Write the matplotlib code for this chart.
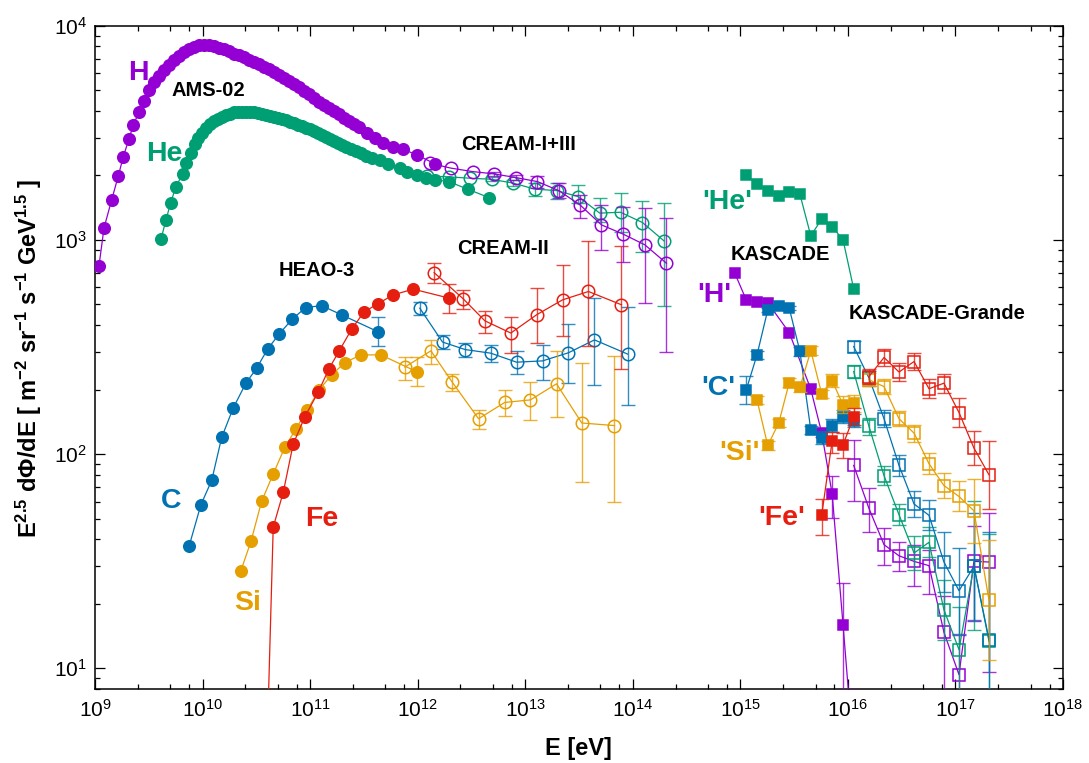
import numpy as np
import matplotlib
matplotlib.use("Agg")
import matplotlib.pyplot as plt
from matplotlib.ticker import LogLocator, NullFormatter, FixedLocator

plt.rcParams['font.family'] = ['Liberation Sans', 'DejaVu Sans']
plt.rcParams['mathtext.fontset'] = 'custom'
plt.rcParams['mathtext.rm'] = 'Liberation Sans'
plt.rcParams['mathtext.bf'] = 'Liberation Sans:bold'
plt.rcParams['mathtext.it'] = 'Liberation Sans:italic'
plt.rcParams['mathtext.default'] = 'regular'

C_H, C_HE, C_C, C_SI, C_FE = '#9400D3', '#009E73', '#0072B2', '#E69F00', '#E51E10'

# ---------------- data: log10(E / eV), log10(E^2.5 dPhi/dE) ----------------
# AMS-02
ams_h_logE = [9.037, 9.084, 9.155, 9.217, 9.263, 9.316, 9.356, 9.412, 9.455, 9.502, 9.548,
              9.595, 9.641, 9.688, 9.734, 9.781, 9.827, 9.874, 9.920, 9.967, 10.013,
              10.060, 10.106, 10.152, 10.199, 10.245, 10.292, 10.338, 10.385, 10.431, 10.478,
              10.524, 10.571, 10.617, 10.664, 10.710, 10.757, 10.803, 10.849, 10.896, 10.942,
              10.989, 11.035, 11.082, 11.128, 11.175, 11.221, 11.268, 11.314, 11.361, 11.407,
              11.454, 11.528, 11.602, 11.677, 11.770, 11.863, 11.993, 12.160]
ams_h_logF = [2.879, 3.056, 3.187, 3.299, 3.389, 3.471, 3.537, 3.599, 3.649, 3.700, 3.739,
              3.765, 3.793, 3.817, 3.840, 3.859, 3.877, 3.891, 3.901, 3.908, 3.910,
              3.910, 3.905, 3.898, 3.889, 3.880, 3.870, 3.861, 3.852, 3.842, 3.831,
              3.819, 3.807, 3.796, 3.782, 3.768, 3.754, 3.740, 3.726, 3.712, 3.695,
              3.679, 3.663, 3.646, 3.630, 3.616, 3.602, 3.586, 3.569, 3.555, 3.541,
              3.525, 3.499, 3.476, 3.454, 3.435, 3.423, 3.397, 3.355]
ams_he_logE = [9.613, 9.660, 9.704, 9.753, 9.815, 9.846, 9.892, 9.932, 9.960,
               9.994, 10.032, 10.069, 10.106, 10.143, 10.180, 10.217, 10.255, 10.292, 10.329,
               10.366, 10.403, 10.441, 10.478, 10.515, 10.552, 10.589, 10.626, 10.664, 10.701,
               10.738, 10.775, 10.812, 10.849, 10.887, 10.924, 10.961, 10.998, 11.035, 11.073,
               11.110, 11.147, 11.184, 11.221, 11.258, 11.296, 11.333,
               11.379, 11.426, 11.472, 11.519, 11.574, 11.649, 11.723, 11.835, 11.900, 11.993,
               12.076, 12.160, 12.290, 12.464, 12.665]
ams_he_logF = [3.003, 3.093, 3.174, 3.249, 3.308, 3.361, 3.405, 3.447, 3.475,
               3.499, 3.523, 3.539, 3.553, 3.565, 3.574, 3.583, 3.590, 3.595, 3.597,
               3.599, 3.599, 3.597, 3.595, 3.591, 3.588, 3.583, 3.579, 3.574, 3.569,
               3.565, 3.558, 3.551, 3.544, 3.537, 3.530, 3.523, 3.516, 3.509, 3.499,
               3.490, 3.481, 3.471, 3.462, 3.453, 3.443, 3.434,
               3.425, 3.415, 3.404, 3.392, 3.382, 3.371, 3.355, 3.335, 3.319, 3.303,
               3.289, 3.280, 3.272, 3.237, 3.197]

# CREAM-I+III
cream_h_logE = [12.113, 12.309, 12.510, 12.711, 12.913, 13.114, 13.312, 13.510, 13.709, 13.910, 14.112, 14.313]
cream_h_logF = [3.358, 3.335, 3.319, 3.308, 3.291, 3.272, 3.230, 3.163, 3.070, 3.027, 2.977, 2.891]
cream_h_lo = [3.358, 3.335, 3.319, 3.298, 3.279, 3.243, 3.196, 3.103, 2.953, 2.897, 2.706, 2.477]
cream_h_hi = [3.358, 3.335, 3.319, 3.318, 3.303, 3.299, 3.266, 3.210, 3.163, 3.154, 3.149, 3.103]
cream_he_logE = [12.086, 12.290, 12.485, 12.687, 12.888, 13.089, 13.297, 13.492, 13.693, 13.886, 14.090, 14.291]
cream_he_logF = [3.299, 3.294, 3.288, 3.283, 3.265, 3.237, 3.230, 3.202, 3.125, 3.129, 3.081, 2.995]
cream_he_lo = [3.299, 3.294, 3.288, 3.273, 3.251, 3.205, 3.191, 3.173, 3.084, 3.037, 2.944, 2.692]
cream_he_hi = [3.299, 3.294, 3.288, 3.293, 3.279, 3.266, 3.266, 3.257, 3.196, 3.219, 3.182, 3.173]

# HEAO-3
heao_c_logE = [9.876, 9.985, 10.085, 10.178, 10.285, 10.403, 10.503, 10.605, 10.713, 10.834, 10.958, 11.107, 11.293, 11.627]
heao_c_logF = [1.572, 1.764, 1.877, 2.078, 2.215, 2.331, 2.401, 2.490, 2.561, 2.630, 2.684, 2.693, 2.650, 2.572]
heao_c_err = [0, 0, 0, 0, 0, 0, 0, 0, 0, 0, 0, 0, 0, 0.068]
heao_si_logE = [10.354, 10.450, 10.549, 10.657, 10.766, 10.868, 10.973, 11.085, 11.200, 11.323, 11.472, 11.658, 11.990]
heao_si_logF = [1.452, 1.592, 1.779, 1.907, 2.033, 2.117, 2.207, 2.300, 2.370, 2.427, 2.463, 2.463, 2.385]
heao_si_err = [0, 0, 0, 0, 0, 0, 0, 0, 0, 0, 0, 0, 0.068]
heao_fe_logE = [10.599, 10.657, 10.750, 10.843, 10.952, 11.075, 11.175, 11.271, 11.386, 11.500, 11.627, 11.772, 11.958, 12.293]
heao_fe_logF = [0.620, 1.659, 1.821, 2.047, 2.175, 2.289, 2.398, 2.482, 2.583, 2.663, 2.701, 2.743, 2.770, 2.728]
heao_fe_err = [0, 0, 0, 0, 0, 0, 0, 0, 0, 0, 0, 0, 0, 0.068]

# CREAM-II
cream2_c_logE = [12.020, 12.231, 12.441, 12.680, 12.919, 13.161, 13.402, 13.644, 13.951]
cream2_c_logF = [2.681, 2.523, 2.488, 2.471, 2.429, 2.435, 2.473, 2.533, 2.467]
cream2_c_lo = [2.647, 2.490, 2.455, 2.432, 2.373, 2.347, 2.331, 2.323, 2.227]
cream2_c_hi = [2.712, 2.557, 2.518, 2.510, 2.479, 2.507, 2.608, 2.728, 2.686]
cream2_si_logE = [11.881, 12.123, 12.321, 12.566, 12.810, 13.049, 13.291, 13.526, 13.830]
cream2_si_logF = [2.406, 2.482, 2.336, 2.165, 2.241, 2.253, 2.328, 2.145, 2.133]
cream2_si_lo = [2.347, 2.420, 2.295, 2.117, 2.180, 2.157, 2.171, 1.869, 1.776]
cream2_si_hi = [2.455, 2.533, 2.375, 2.207, 2.297, 2.336, 2.479, 2.425, 2.459]
cream2_fe_logE = [12.153, 12.423, 12.625, 12.866, 13.105, 13.347, 13.588, 13.895]
cream2_fe_logF = [2.847, 2.725, 2.622, 2.565, 2.650, 2.720, 2.759, 2.697]
cream2_fe_lo = [2.801, 2.677, 2.567, 2.474, 2.518, 2.549, 2.505, 2.397]
cream2_fe_hi = [2.891, 2.767, 2.669, 2.639, 2.777, 2.883, 2.995, 2.972]

# KASCADE
kas_h_logE = [14.948, 15.055, 15.155, 15.255, 15.455, 15.655, 15.757, 15.854, 15.955, 16.049]
kas_h_logF = [2.845, 2.720, 2.712, 2.707, 2.567, 2.303, 2.098, 1.813, 1.202, 0.620]
kas_h_lo = [2.845, 2.720, 2.712, 2.707, 2.567, 2.303, 2.080, 1.703, 0.500, 0.500]
kas_h_hi = [2.845, 2.720, 2.712, 2.707, 2.567, 2.303, 2.116, 1.899, 1.398, 0.900]
kas_he_logE = [15.055, 15.155, 15.255, 15.357, 15.455, 15.554, 15.655, 15.757, 15.854, 15.955, 16.054]
kas_he_logF = [3.303, 3.261, 3.229, 3.205, 3.223, 3.213, 3.019, 3.098, 3.062, 3.000, 2.771]
kas_c_logE = [15.055, 15.155, 15.255, 15.357, 15.455, 15.554, 15.655, 15.757, 15.854, 15.955, 16.054]
kas_c_logF = [2.300, 2.463, 2.673, 2.689, 2.681, 2.479, 2.113, 2.076, 2.132, 2.175, 2.155]
kas_c_err = [0.066, 0.02, 0.01, 0.01, 0.01, 0.02, 0.02, 0.03, 0.03, 0.03, 0.03]
kas_si_logE = [15.155, 15.255, 15.357, 15.455, 15.554, 15.655, 15.757, 15.854, 15.955, 16.054]
kas_si_logF = [2.253, 2.040, 2.145, 2.334, 2.311, 2.483, 2.280, 2.342, 2.230, 2.238]
kas_si_err = [0.02, 0.02, 0.02, 0.02, 0.02, 0.02, 0.02, 0.03, 0.04, 0.04]
kas_fe_logE = [15.757, 15.854, 15.955, 16.054]
kas_fe_logF = [1.717, 2.062, 2.043, 2.175]
kas_fe_lo = [1.623, 2.005, 1.983, 2.137]
kas_fe_hi = [1.790, 2.105, 2.100, 2.216]

# KASCADE-Grande
gr_logE = [16.054, 16.196, 16.336, 16.475, 16.615, 16.754, 16.893, 17.033, 17.172, 17.312]
gr_h_logF = [1.947, 1.746, 1.577, 1.525, 1.499, 1.479, 1.168, 0.970, 1.499, 1.496]
gr_h_lo = [1.779, 1.634, 1.480, 1.453, 1.385, 1.347, 0.500, 0.500, 1.219, 0.984]
gr_h_hi = [2.067, 1.843, 1.656, 1.591, 1.577, 1.553, 1.336, 1.157, 1.662, 1.726]
gr_he_logF = [2.385, 2.129, 1.899, 1.717, 1.538, 1.588, 1.273, 1.087, 1.479, 1.126]
gr_he_err = [0.03, 0.04, 0.045, 0.05, 0.08, 0.07, 0.14, 0.2, 0.3, 0.5]
gr_c_logF = [2.502, 2.355, 2.165, 1.947, 1.767, 1.714, 1.496, 1.362, 1.476, 1.134]
gr_c_err = [0.027, 0.035, 0.04, 0.05, 0.06, 0.07, 0.14, 0.2, 0.25, 0.5]
gr_si_logF = [2.347, 2.315, 2.165, 2.098, 1.955, 1.853, 1.802, 1.735, 1.317]
gr_si_err = [0.03, 0.035, 0.035, 0.04, 0.05, 0.06, 0.07, 0.15, 0.28]
gr_fe_logF = [2.362, 2.451, 2.383, 2.432, 2.305, 2.331, 2.194, 2.028, 1.903]
gr_fe_err = [0.037, 0.04, 0.04, 0.04, 0.045, 0.045, 0.066, 0.078, 0.16]

# axis ticks
x_major_exp = [9, 10, 11, 12, 13, 14, 15, 16, 17, 18]
y_major_exp = [1, 2, 3, 4]

# labels: (text, log10 E, log10 F, colour, size)
labels = [
    ("H", 9.400, 3.779, C_H, 20.5), ("He", 9.641, 3.401, C_HE, 20.5),
    ("C", 9.704, 1.779, C_C, 20.5), ("Si", 10.422, 1.303, C_SI, 20.5), ("Fe", 11.107, 1.697, C_FE, 20.5),
    ("'He'", 14.878, 3.179, C_HE, 20.5), ("'H'", 14.753, 2.741, C_H, 20.5), ("'C'", 14.799, 2.308, C_C, 20.5),
    ("'Si'", 14.994, 2.006, C_SI, 20.5), ("'Fe'", 15.382, 1.701, C_FE, 20.5),
    ("AMS-02", 10.053, 3.697, 'black', 14.5), ("CREAM-I+III", 12.934, 3.443, 'black', 14.5),
    ("CREAM-II", 12.795, 2.958, 'black', 14.5), ("HEAO-3", 11.063, 2.855, 'black', 14.5),
    ("KASCADE", 15.374, 2.932, 'black', 14.5), ("KASCADE-Grande", 16.825, 2.655, 'black', 14.5),
]

# ---------------- figure ----------------
fig = plt.figure(figsize=(10.89, 7.63), dpi=100)
ax = fig.add_axes([95/1089, 1-689/763, (1063-95)/1089, (689-25.7)/763])


def draw(lx, ly, color, marker, filled, ms, err=None, lo=None, hi=None, z=3):
    lx = np.asarray(lx, float); ly = np.asarray(ly, float)
    E = 10**lx; F = 10**ly
    if err is not None:
        lo = ly - np.asarray(err); hi = ly + np.asarray(err)
    if lo is not None:
        lo = np.asarray(lo, float); hi = np.asarray(hi, float)
        m = (hi - lo) > 1e-6
        yerr = np.vstack([F[m] - 10**lo[m], 10**hi[m] - F[m]])
        ax.errorbar(E[m], F[m], yerr=yerr, fmt='none', ecolor=color, elinewidth=1.0,
                    capsize=4.8, capthick=1.0, alpha=0.8, zorder=z)
    ax.plot(E, F, color=color, lw=0.9, marker=marker, ms=ms,
            mfc=(color if filled else 'none'), mec=color, mew=1.1, zorder=z)


# HEAO-3
draw(heao_c_logE, heao_c_logF, C_C, 'o', True, 8.3, err=heao_c_err)
draw(heao_si_logE, heao_si_logF, C_SI, 'o', True, 8.3, err=heao_si_err)
draw(heao_fe_logE, heao_fe_logF, C_FE, 'o', True, 8.3, err=heao_fe_err)
# CREAM-II
draw(cream2_c_logE, cream2_c_logF, C_C, 'o', False, 9, lo=cream2_c_lo, hi=cream2_c_hi)
draw(cream2_si_logE, cream2_si_logF, C_SI, 'o', False, 9, lo=cream2_si_lo, hi=cream2_si_hi)
draw(cream2_fe_logE, cream2_fe_logF, C_FE, 'o', False, 9, lo=cream2_fe_lo, hi=cream2_fe_hi)
# CREAM-I+III
draw(cream_he_logE, cream_he_logF, C_HE, 'o', False, 9, lo=cream_he_lo, hi=cream_he_hi)
draw(cream_h_logE, cream_h_logF, C_H, 'o', False, 9, lo=cream_h_lo, hi=cream_h_hi)
# AMS-02
draw(ams_he_logE, ams_he_logF, C_HE, 'o', True, 8.3)
draw(ams_h_logE, ams_h_logF, C_H, 'o', True, 8.3)
# KASCADE-Grande
draw(gr_logE, gr_h_logF, C_H, 's', False, 8, lo=gr_h_lo, hi=gr_h_hi)
draw(gr_logE, gr_he_logF, C_HE, 's', False, 8, err=gr_he_err)
draw(gr_logE, gr_c_logF, C_C, 's', False, 8, err=gr_c_err)
draw(gr_logE[1:], gr_si_logF, C_SI, 's', False, 8, err=gr_si_err)
draw(gr_logE[1:], gr_fe_logF, C_FE, 's', False, 8, err=gr_fe_err)
# KASCADE
draw(kas_he_logE, kas_he_logF, C_HE, 's', True, 7.5)
draw(kas_h_logE, kas_h_logF, C_H, 's', True, 7.5, lo=kas_h_lo, hi=kas_h_hi)
draw(kas_c_logE, kas_c_logF, C_C, 's', True, 7.5, err=kas_c_err)
draw(kas_si_logE, kas_si_logF, C_SI, 's', True, 7.5, err=kas_si_err)
draw(kas_fe_logE, kas_fe_logF, C_FE, 's', True, 7.5, lo=kas_fe_lo, hi=kas_fe_hi)

for txt, lx, ly, col, fs in labels:
    ax.text(10**lx, 10**ly, txt, color=col, fontsize=fs, fontweight='bold',
            ha='center', va='center', zorder=10)

ax.set_xscale('log'); ax.set_yscale('log')
ax.set_xlim(1e9, 1e18); ax.set_ylim(8, 1e4)
ax.xaxis.set_major_locator(FixedLocator([10.0**k for k in x_major_exp]))
ax.xaxis.set_minor_locator(LogLocator(base=10, subs=(2.5, 5.0, 7.5), numticks=20))
ax.xaxis.set_minor_formatter(NullFormatter())
ax.yaxis.set_major_locator(FixedLocator([10.0**k for k in y_major_exp]))
ax.yaxis.set_minor_locator(LogLocator(base=10, subs=np.arange(2, 10), numticks=10))
ax.yaxis.set_minor_formatter(NullFormatter())
ax.tick_params(which='both', direction='in', top=True, right=True, width=0.9)
ax.tick_params(which='major', length=7, labelsize=15)
ax.tick_params(which='minor', length=3.5)
ax.tick_params(axis='x', which='major', pad=7)
ax.tick_params(axis='y', which='major', pad=6)
for s in ax.spines.values():
    s.set_linewidth(1.1)

fig.text(578/1089, 1-748/763, "E [eV]", fontsize=17, fontweight='bold', ha='center', va='center')
fig.text(29/1089, 1-358/763,
         r"E$^{\mathbf{2.5}}$ d$\mathbf{\Phi}$/dE [ m$^{\mathbf{-2}}$ sr$^{\mathbf{-1}}$ s$^{\mathbf{-1}}$ GeV$^{\mathbf{1.5}}$ ]",
         fontsize=17, fontweight='bold', rotation=90, ha='center', va='center')

fig.savefig("out.png", dpi=100)
